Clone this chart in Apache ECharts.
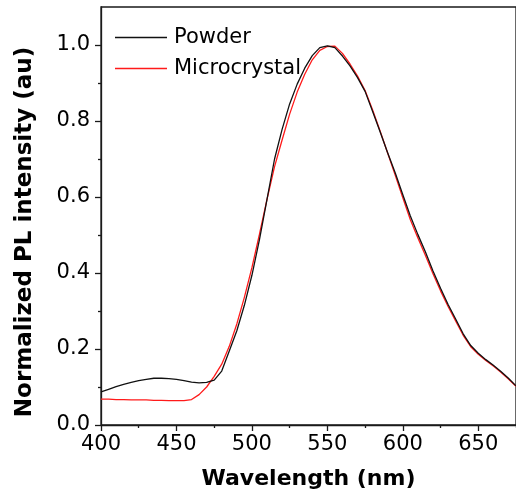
<!DOCTYPE html>
<html>
<head>
<meta charset="utf-8">
<script src="https://cdn.jsdelivr.net/npm/echarts@6/dist/echarts.min.js"></script>
<style>html,body{margin:0;padding:0;background:#fff}#c{width:516px;height:495px}</style>
</head>
<body>
<div id="c"></div>
<script>
var wavelengths = [400,405,410,415,420,425,430,435,440,445,450,455,460,465,470,475,480,485,490,495,500,505,510,515,520,525,530,535,540,545,550,555,560,565,570,575,580,585,590,595,600,605,610,615,620,625,630,635,640,645,650,655,660,665,670,675];
var powder = [0.087,0.094,0.101,0.107,0.112,0.117,0.120,0.123,0.123,0.122,0.120,0.117,0.113,0.111,0.112,0.118,0.142,0.195,0.248,0.315,0.394,0.488,0.594,0.700,0.778,0.845,0.897,0.939,0.972,0.993,0.998,0.993,0.971,0.945,0.914,0.878,0.825,0.771,0.716,0.663,0.606,0.550,0.501,0.455,0.405,0.360,0.317,0.279,0.240,0.209,0.189,0.172,0.157,0.141,0.123,0.103];
var microcrystal = [0.068,0.068,0.067,0.067,0.066,0.066,0.066,0.065,0.065,0.064,0.064,0.064,0.067,0.080,0.100,0.128,0.160,0.207,0.266,0.336,0.414,0.502,0.594,0.680,0.750,0.818,0.876,0.923,0.961,0.986,0.996,0.997,0.978,0.950,0.918,0.880,0.829,0.773,0.715,0.657,0.598,0.540,0.492,0.446,0.398,0.353,0.312,0.274,0.236,0.206,0.186,0.170,0.155,0.139,0.121,0.102];
var seriesNames = ['Powder', 'Microcrystal'];
var xTickLabels = [400,450,500,550,600,650];
var xMinorTicks = [425,475,525,575,625,675];
var yTickLabels = [0.0,0.2,0.4,0.6,0.8,1.0];
var yMinorTicks = [0.1,0.3,0.5,0.7,0.9];
var xTitle = 'Wavelength (nm)';
var yTitle = 'Normalized PL intensity (au)';

function pairs(xs, ys){ return xs.map(function(x,i){ return [x, ys[i]]; }); }

var FONT = 'DejaVu Sans';
var chart = echarts.init(document.getElementById('c'), null, {renderer:'canvas'});
var axisLine = {show:true, lineStyle:{color:'#1a1a1a', width:1.3}};
chart.setOption({
  animation:false,
  backgroundColor:'#fff',
  grid:{left:101, right:0, top:7, bottom:68, show:true, borderColor:'#1a1a1a', borderWidth:1.3},
  legend:{
    orient:'vertical', left:110, top:22, itemWidth:52, itemHeight:1.4, itemGap:10, icon:'rect',
    textStyle:{fontFamily:FONT, fontSize:21, color:'#000', lineHeight:20, padding:[0,0,0,2]},
    data:seriesNames
  },
  xAxis:[{
    type:'value', min:400, max:675, position:'bottom',
    axisLine:axisLine,
    axisTick:{show:true, length:6, customValues:xTickLabels, lineStyle:{color:'#1a1a1a', width:1.3}},
    axisLabel:{customValues:xTickLabels, margin:9, fontFamily:FONT, fontSize:21, color:'#000'},
    splitLine:{show:false},
    name:xTitle, nameLocation:'middle', nameGap:43,
    nameTextStyle:{fontFamily:FONT, fontSize:22, fontWeight:'bold', color:'#000'}
  },{
    type:'value', min:400, max:675, position:'bottom', gridIndex:0,
    axisLine:{show:false},
    axisTick:{show:true, length:3, customValues:xMinorTicks, lineStyle:{color:'#1a1a1a', width:1.3}},
    axisLabel:{show:false}, splitLine:{show:false}
  }],
  yAxis:[{
    type:'value', min:0, max:1.1, position:'left',
    axisLine:axisLine,
    axisTick:{show:true, length:6, customValues:yTickLabels, lineStyle:{color:'#1a1a1a', width:1.3}},
    axisLabel:{customValues:yTickLabels, margin:11, fontFamily:FONT, fontSize:21, color:'#000',
      formatter:function(v){ return v.toFixed(1); }},
    splitLine:{show:false},
    name:yTitle, nameLocation:'middle', nameGap:64, nameRotate:90,
    nameTextStyle:{fontFamily:FONT, fontSize:23, fontWeight:'bold', color:'#000', padding:[0,32,0,0]}
  },{
    type:'value', min:0, max:1.1, position:'left', gridIndex:0,
    axisLine:{show:false},
    axisTick:{show:true, length:3, customValues:yMinorTicks, lineStyle:{color:'#1a1a1a', width:1.3}},
    axisLabel:{show:false}, splitLine:{show:false}
  }],
  series:[{
    name:seriesNames[0], type:'line', symbol:'none', xAxisIndex:0, yAxisIndex:0,
    lineStyle:{color:'#111', width:1.3}, itemStyle:{color:'#111'},
    data:pairs(wavelengths, powder), z:3
  },{
    name:seriesNames[1], type:'line', symbol:'none', xAxisIndex:0, yAxisIndex:0,
    lineStyle:{color:'#ff1a1a', width:1.3}, itemStyle:{color:'#ff1a1a'},
    data:pairs(wavelengths, microcrystal), z:2
  }]
});
</script>
</body>
</html>
